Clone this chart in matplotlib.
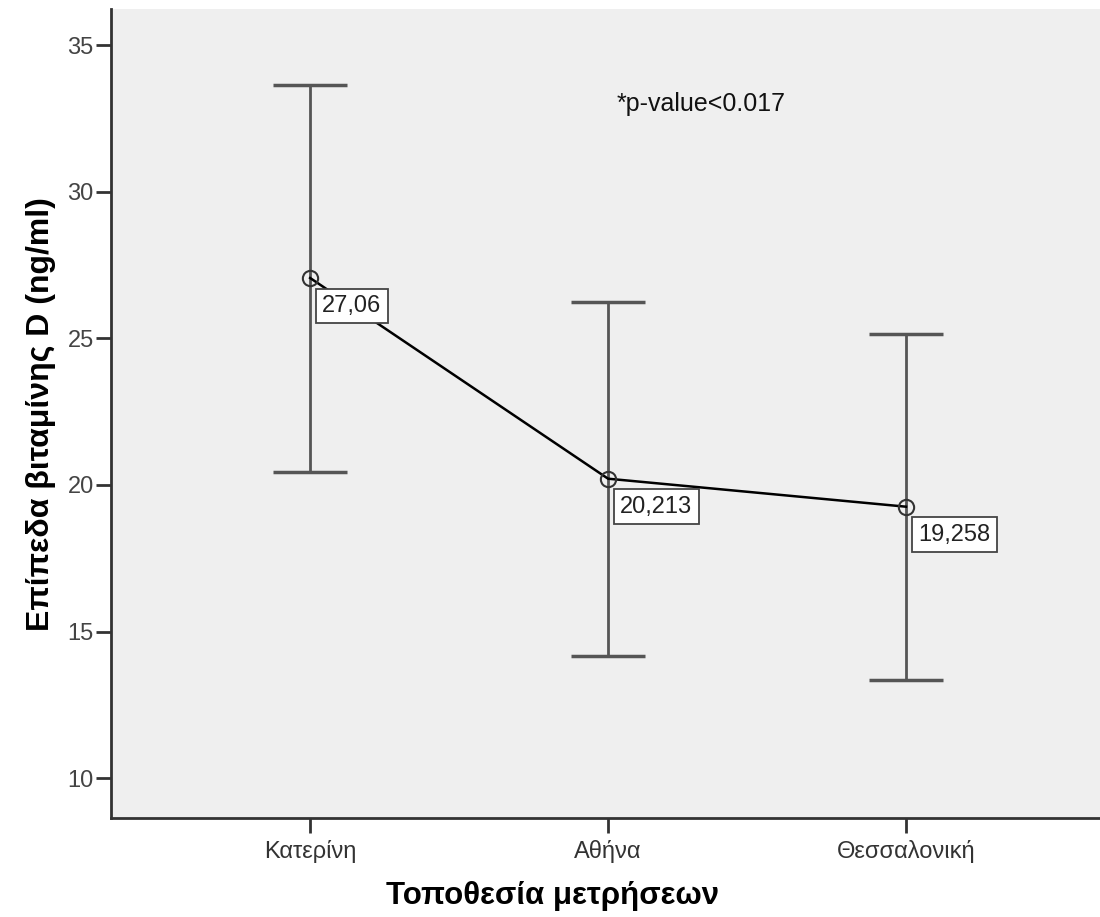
import matplotlib
matplotlib.use("Agg")
import matplotlib.pyplot as plt
import numpy as np

# data
locations = ["Κατερίνη", "Αθήνα", "Θεσσαλονική"]
means = [27.06, 20.213, 19.258]
ci_low = [20.45, 14.15, 13.35]
ci_high = [33.65, 26.25, 25.15]
mean_labels = ["27,06", "20,213", "19,258"]

plt.rcParams['font.family'] = ['Liberation Sans', 'DejaVu Sans']

fig = plt.figure(figsize=(11, 9.17), dpi=100)
ax = fig.add_axes([0.101, 0.108, 0.899, 0.882])
ax.set_facecolor("#efefef")

x = np.arange(len(locations))
means = np.array(means)
yerr = [means - np.array(ci_low), np.array(ci_high) - means]

ax.errorbar(x, means, yerr=yerr, fmt="none", ecolor="#555555", elinewidth=2,
            capsize=26.5, capthick=2.5, zorder=2)
ax.plot(x, means, color="black", linewidth=1.8, zorder=3)
ax.plot(x, means, linestyle="none", marker="o", markersize=11,
        markerfacecolor="none", markeredgecolor="#333333", markeredgewidth=1.5, zorder=4)

for xi, m, lab in zip(x, means, mean_labels):
    ax.annotate(lab, (xi, m), xytext=(12, -17), textcoords="offset pixels",
                ha="left", va="top", fontsize=17, color="#222222",
                bbox=dict(boxstyle="square,pad=0.27", facecolor="white",
                          edgecolor="#444444", linewidth=1.3), zorder=5)

ax.text(1.03, 33.0, "*p-value<0.017", fontsize=18, color="#111111",
        ha="left", va="center")

ax.set_xlim(-0.668, 2.651)
ax.set_ylim(8.64, 36.23)
ax.set_xticks(x)
ax.set_xticklabels(locations, fontsize=17, color="#333333")
ax.set_yticks([10, 15, 20, 25, 30, 35])
ax.tick_params(axis="y", labelsize=17, labelcolor="#444444", length=11, width=2,
               color="#333333", direction="out", pad=1.5)
ax.tick_params(axis="x", length=11, width=2, color="#333333", direction="out", pad=5)

for s in ["top", "right"]:
    ax.spines[s].set_visible(False)
for s in ["left", "bottom"]:
    ax.spines[s].set_linewidth(2)
    ax.spines[s].set_color("#333333")

ax.set_xlabel("Τοποθεσία μετρήσεων", fontsize=22.5, fontweight="bold")
ax.xaxis.set_label_coords(0.446, -0.078)
ax.set_ylabel("Επίπεδα βιταμίνης D (ng/ml)", fontsize=23, fontweight="bold", labelpad=8)

fig.savefig("out.png", dpi=100)
plt.close(fig)
